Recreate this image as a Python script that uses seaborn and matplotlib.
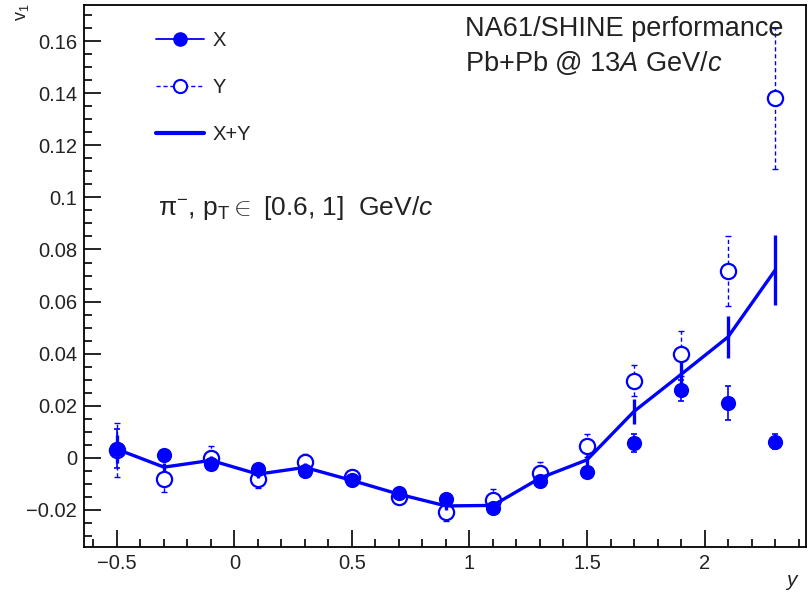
import matplotlib
matplotlib.use("Agg")
import matplotlib.pyplot as plt
from matplotlib.lines import Line2D
from matplotlib.ticker import MultipleLocator
import seaborn as sns
import pandas as pd

# rapidity bins
rapidity = [-0.5, -0.3, -0.1, 0.1, 0.3, 0.5, 0.7, 0.9, 1.1, 1.3, 1.5, 1.7, 1.9, 2.1, 2.3]

# directed flow v1 for the two components and their combination
v1_x = [0.0035, 0.0010, -0.0023, -0.0045, -0.0049, -0.0085, -0.0135, -0.0158,
        -0.0193, -0.0088, -0.0056, 0.0057, 0.0259, 0.0210, 0.0062]
err_x = [0.0075, 0.0020, 0.0020, 0.0020, 0.0020, 0.0020, 0.0020, 0.0020,
         0.0020, 0.0020, 0.0020, 0.0036, 0.0040, 0.0065, 0.0030]

v1_y = [0.0030, -0.0080, 0.0001, -0.0080, -0.0015, -0.0072, -0.0149, -0.0210,
        -0.0164, -0.0058, 0.0047, 0.0296, 0.0400, 0.0717, 0.1380]
err_y = [0.0105, 0.0050, 0.0043, 0.0038, 0.0030, 0.0025, 0.0025, 0.0033,
         0.0045, 0.0043, 0.0045, 0.0060, 0.0085, 0.0135, 0.0270]

v1_xy = [0.0033, -0.0036, -0.0010, -0.0063, -0.0037, -0.0087, -0.0140, -0.0185,
         -0.0183, -0.0078, -0.0008, 0.0178, 0.0320, 0.0464, 0.0720]
err_xy = [0.0055, 0.0015, 0.0015, 0.0015, 0.0015, 0.0015, 0.0015, 0.0015,
          0.0015, 0.0015, 0.0020, 0.0048, 0.0050, 0.0080, 0.0135]

df = pd.DataFrame({"y": rapidity, "X": v1_x, "Y": v1_y, "XY": v1_xy})

sns.set_theme(style="white")
plt.rcParams["font.family"] = ["Liberation Sans", "DejaVu Sans"]
plt.rcParams["mathtext.fontset"] = "custom"
plt.rcParams["mathtext.rm"] = "Liberation Sans"
plt.rcParams["mathtext.it"] = "Liberation Sans:italic"
plt.rcParams["mathtext.bf"] = "Liberation Sans:bold"

BLUE = "#0000ff"
INK = "#222222"

fig = plt.figure(figsize=(8.08, 5.95), dpi=100)
ax = fig.add_axes([0.104, 0.081, 0.893, 0.911])

# Y component: open circles with dashed error bars
eb = ax.errorbar(rapidity, v1_y, yerr=err_y, fmt="none", ecolor=BLUE,
                 elinewidth=1.0, capsize=2, capthick=1.0, zorder=2)
for c in eb[2]:
    c.set_linestyle((0, (3, 2)))
sns.scatterplot(data=df, x="y", y="Y", ax=ax, marker="o", s=120,
                facecolor="white", edgecolor=BLUE, linewidth=1.6, zorder=3)

# X component: filled circles
ax.errorbar(rapidity, v1_x, yerr=err_x, fmt="none", ecolor=BLUE,
            elinewidth=1.2, capsize=2, capthick=1.2, zorder=2)
sns.scatterplot(data=df, x="y", y="X", ax=ax, marker="o", s=120,
                color=BLUE, edgecolor=BLUE, linewidth=0, zorder=4)

# X+Y combination: thick line with error bars
ax.errorbar(rapidity, v1_xy, yerr=err_xy, fmt="none", ecolor=BLUE,
            elinewidth=2.4, capsize=0, zorder=5)
sns.lineplot(data=df, x="y", y="XY", ax=ax, color=BLUE, linewidth=2.4,
             zorder=5, legend=False)

ax.set_xlim(-0.64, 2.43)
ax.set_ylim(-0.0342, 0.174)
ax.xaxis.set_minor_locator(MultipleLocator(0.1))
ax.yaxis.set_minor_locator(MultipleLocator(0.005))
ax.set_xticks([-0.5, 0, 0.5, 1, 1.5, 2])
ax.set_xticklabels(["\u22120.5", "0", "0.5", "1", "1.5", "2"])
yt = [-0.02, 0, 0.02, 0.04, 0.06, 0.08, 0.1, 0.12, 0.14, 0.16]
ax.set_yticks(yt)
ax.set_yticklabels(["\u22120.02", "0", "0.02", "0.04", "0.06", "0.08",
                    "0.1", "0.12", "0.14", "0.16"])
ax.tick_params(axis="both", which="both", direction="in", colors="black",
               labelcolor=INK, labelsize=14.5)
ax.tick_params(axis="both", which="major", length=12, width=1.2)
ax.tick_params(axis="both", which="minor", length=6, width=1.2)
ax.tick_params(axis="x", which="both", bottom=True, top=False, pad=5)
ax.tick_params(axis="y", which="both", left=True, right=False, pad=5)
for sp in ax.spines.values():
    sp.set_visible(True)
    sp.set_color("black")
    sp.set_linewidth(1.3)
ax.set_xlabel("")
ax.set_ylabel("")

fig.text(0.986, 0.008, "y", fontsize=15, style="italic", ha="right",
         va="bottom", color=INK)
fig.text(0.028, 0.995, "v$_{1}$", fontsize=13, rotation=90, ha="center",
         va="top", color=INK)

handles = [
    Line2D([], [], color=BLUE, linewidth=1.3, marker="o", markersize=9.5,
           markerfacecolor=BLUE, markeredgecolor=BLUE),
    Line2D([], [], color=BLUE, linewidth=1.0, linestyle=(0, (3, 2)),
           marker="o", markersize=9.5, markerfacecolor="white",
           markeredgecolor=BLUE, markeredgewidth=1.5),
    Line2D([], [], color=BLUE, linewidth=3.0),
]
ax.legend(handles, ["X", "Y", "X+Y"], loc="upper left",
          bbox_to_anchor=(0.074, 0.985), frameon=False, fontsize=14.5,
          handlelength=2.4, handletextpad=0.45, labelspacing=1.4,
          labelcolor=INK)

ax.text(0.528, 0.955, "NA61/SHINE performance", transform=ax.transAxes,
        fontsize=19.5, ha="left", va="center", color=INK)
ax.text(0.528, 0.893, "Pb+Pb @ 13$\\mathit{A}$ GeV/$\\mathit{c}$",
        transform=ax.transAxes, fontsize=19.5, ha="left", va="center",
        color=INK)
ax.text(0.102, 0.625,
        "\u03c0$^{-}$, p$_{\\mathrm{T}}$$\\in$ [0.6, 1]  GeV/$\\mathit{c}$",
        transform=ax.transAxes, fontsize=19, ha="left", va="center",
        color=INK)

fig.savefig("out.png", dpi=100, facecolor="white")
